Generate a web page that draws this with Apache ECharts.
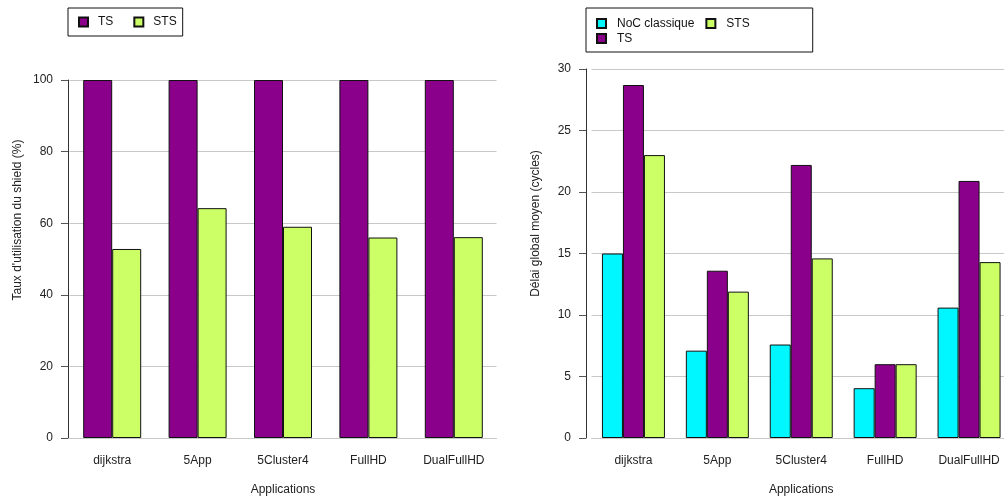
<!DOCTYPE html>
<html>
<head>
<meta charset="utf-8">
<script src="https://cdn.jsdelivr.net/npm/echarts@6/dist/echarts.min.js"></script>
<style>
  html, body { margin: 0; padding: 0; background: #fff; }
  #chart { width: 1004px; height: 502px; }
</style>
</head>
<body>
<div id="chart"></div>
<script>
const apps = ['dijkstra', '5App', '5Cluster4', 'FullHD', 'DualFullHD']

// left chart: shield usage rate (%)
const shieldTS = [100, 100, 100, 100, 100]
const shieldSTS = [52.8, 64.2, 59, 56, 56.1]

// right chart: average global delay (cycles)
const delayNoC = [15, 7.1, 7.6, 4.05, 10.6]
const delayTS = [28.7, 13.6, 22.2, 6, 20.9]
const delaySTS = [23, 11.9, 14.6, 6, 14.3]

const C_TS = '#8b008b'
const C_STS = '#ccff66'
const C_NOC = '#00f7ff'
const FONT = 'Liberation Sans, Arial, sans-serif'

const chart = echarts.init(document.getElementById('chart'), null, { renderer: 'canvas' })

function xAxis(gridIndex) {
  return {
    type: 'category',
    gridIndex,
    data: apps,
    name: 'Applications',
    nameLocation: 'middle',
    nameGap: 46,
    nameTextStyle: { fontFamily: FONT, fontSize: 12, color: '#222' },
    axisLine: { lineStyle: { color: '#c8c8c8', width: 1 } },
    axisTick: { show: false },
    axisLabel: { fontFamily: FONT, fontSize: 12, color: '#222', margin: 17 },
  }
}

// shift: the name sits above the plot's middle in the reference
function yAxis(gridIndex, max, interval, name, offset, shift) {
  return {
    type: 'value',
    gridIndex,
    min: 0,
    max,
    interval,
    offset,
    name,
    nameLocation: 'middle',
    nameGap: 44,
    nameTextStyle: { fontFamily: FONT, fontSize: 12, color: '#222', padding: [0, 0, 0, shift * 2] },
    axisLine: { show: true, lineStyle: { color: '#333', width: 1 } },
    axisTick: { show: true, inside: false, length: 7, lineStyle: { color: '#555' } },
    axisLabel: { fontFamily: FONT, fontSize: 12, color: '#222', margin: 15 },
    splitLine: { show: true, lineStyle: { color: '#c8c8c8', width: 1 } },
  }
}

const barStyle = color => ({ color, borderColor: '#111', borderWidth: 1 })

chart.setOption({
  animation: false,
  textStyle: { fontFamily: FONT },
  grid: [
    { left: 69.5, top: 80, width: 427, height: 358, outerBoundsMode: 'none' },
    // the right plot runs a little past the picture's edge
    { left: 591.5, top: 69, width: 419.5, height: 369, outerBoundsMode: 'none' },
  ],
  legend: [
    {
      data: ['TS', 'STS'],
      left: 68,
      top: 8,
      orient: 'horizontal',
      icon: 'rect',
      itemWidth: 9,
      itemHeight: 9,
      itemGap: 20,
      padding: [8, 6, 8, 10],
      borderColor: '#111',
      borderWidth: 1,
      textStyle: { fontFamily: FONT, fontSize: 12, color: '#111', padding: [0, 0, 0, 5] },
    },
    {
      data: ['NoC classique', 'STS#r', 'TS#r'],
      left: 586,
      top: 8,
      width: 165,
      orient: 'horizontal',
      icon: 'rect',
      itemWidth: 9,
      itemHeight: 9,
      itemGap: 0,
      padding: [8, 52, 6, 10],
      borderColor: '#111',
      borderWidth: 1,
      formatter: n => n.replace('#r', ''),
      textStyle: { fontFamily: FONT, fontSize: 12, color: '#111', lineHeight: 15, padding: [0, 11, 0, 6] },
    },
  ],
  xAxis: [xAxis(0), xAxis(1)],
  yAxis: [
    yAxis(0, 100, 20, "Taux d'utilisation du shield (%)", 1.5, 39),
    yAxis(1, 30, 5, 'Délai global moyen (cycles)', 5.5, 30),
  ],
  series: [
    { name: 'TS', type: 'bar', xAxisIndex: 0, yAxisIndex: 0, data: shieldTS, itemStyle: barStyle(C_TS), barGap: '0%', barWidth: 29 },
    { name: 'STS', type: 'bar', xAxisIndex: 0, yAxisIndex: 0, data: shieldSTS, itemStyle: barStyle(C_STS), barGap: '0%', barWidth: 29 },
    { name: 'NoC classique', type: 'bar', xAxisIndex: 1, yAxisIndex: 1, data: delayNoC, itemStyle: barStyle(C_NOC), barGap: '0%', barWidth: 21 },
    { name: 'TS#r', type: 'bar', xAxisIndex: 1, yAxisIndex: 1, data: delayTS, itemStyle: barStyle(C_TS), barGap: '0%', barWidth: 21 },
    { name: 'STS#r', type: 'bar', xAxisIndex: 1, yAxisIndex: 1, data: delaySTS, itemStyle: barStyle(C_STS), barGap: '0%', barWidth: 21 },
  ],
})

window.addEventListener('resize', () => chart.resize())
</script>
</body>
</html>
